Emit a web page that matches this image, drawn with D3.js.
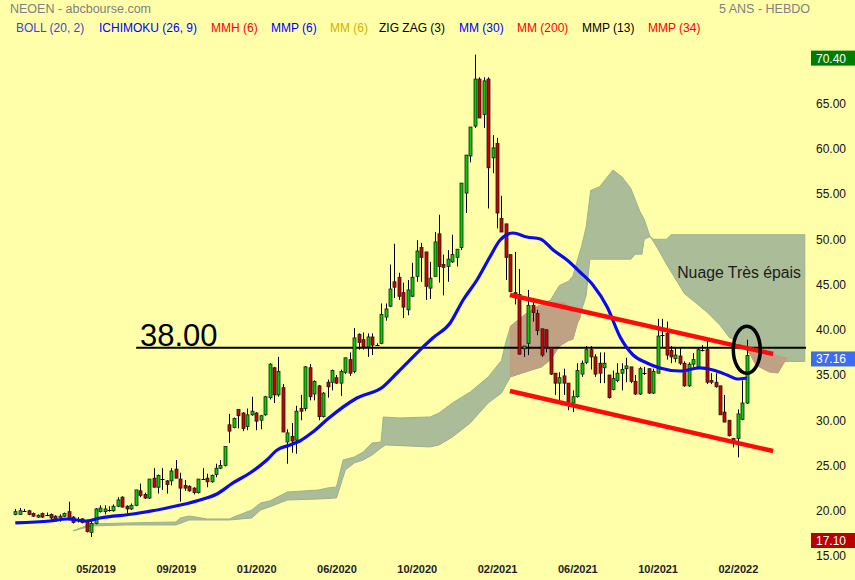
<!DOCTYPE html>
<html><head><meta charset="utf-8">
<script src="https://cdn.jsdelivr.net/npm/d3@7"></script>
<style>body{margin:0;background:#ffffaa}svg{display:block}</style>
</head><body><svg id="c" width="855" height="580"></svg>
<script>
// ---------- DATA ----------
const title = "NEOEN - abcbourse.com";
const period = "5 ANS - HEBDO";
const legendLabels = ["BOLL (20, 2)","ICHIMOKU (26, 9)","MMH (6)","MMP (6)","MM (6)","ZIG ZAG (3)","MM (30)","MM (200)","MMP (13)","MMP (34)"];
const xTickIdx = [18,36,54,72,90,108,126,144,162];
const xTickLabels = ["05/2019","09/2019","01/2020","06/2020","10/2020","02/2021","06/2021","10/2021","02/2022"];
const yTicks = [15,20,25,30,35,40,45,50,55,60,65];
// weekly candles: [open, high, low, close]
const ohlc = [
[19.6,20.2,19.5,19.9],[19.6,20.3,19.6,20.0],[20.0,20.2,19.95,20.0],[20.0,20.1,19.5,19.6],[19.7,19.8,19.3,19.4],
[19.3,19.6,19.2,19.5],[19.7,19.8,19.2,19.3],[19.5,19.8,19.4,19.5],[19.6,19.7,19.0,19.2],[19.4,19.5,19.0,19.1],
[19.2,19.6,18.8,19.4],[19.4,19.8,19.3,19.7],[19.9,21.0,19.1,19.1],[19.3,19.4,18.6,18.7],[19.0,19.3,18.7,19.0],
[19.1,19.2,18.6,18.7],[18.8,19.0,17.6,17.7],[17.6,19.0,17.1,18.6],[18.6,20.3,18.5,20.2],[19.9,20.6,19.8,20.3],
[19.9,20.6,19.6,20.2],[20.1,20.5,19.9,20.1],[20.0,20.7,19.9,20.5],[20.5,21.5,20.4,21.2],[21.5,21.6,20.4,20.4],
[20.5,20.6,19.7,20.2],[20.2,20.8,20.1,20.6],[20.6,22.3,20.5,22.3],[22.2,23.0,21.5,21.7],[21.8,22.0,21.3,21.4],
[21.4,23.5,21.3,23.5],[23.6,24.7,22.6,22.6],[22.6,24.0,21.9,23.9],[23.5,24.7,22.3,23.5],[23.3,23.4,21.9,22.9],
[23.3,24.7,22.8,24.4],[24.6,25.6,23.6,23.6],[23.5,24.2,21.0,22.5],[22.8,23.4,22.2,22.5],[22.7,22.8,22.1,22.2],
[22.5,22.6,21.8,22.0],[22.0,23.5,21.9,23.5],[23.5,24.7,23.4,23.5],[23.6,24.1,22.6,23.2],[23.2,24.0,23.1,23.9],
[24.0,25.2,23.7,24.7],[24.7,25.6,24.6,25.0],[25.0,27.1,24.9,27.1],[29.5,30.7,27.5,28.8],[29.2,30.3,29.1,30.2],
[31.2,31.2,29.1,30.5],[30.8,30.9,28.8,29.1],[29.3,31.3,28.9,30.6],[30.6,32.6,30.5,31.0],[30.8,30.9,28.9,29.9],
[30.0,30.6,29.0,30.5],[30.6,32.7,30.5,32.6],[32.5,36.3,32.3,36.2],[35.8,35.9,31.9,32.8],[32.8,37.0,32.6,35.4],
[33.6,34.0,28.7,28.7],[27.6,29.0,25.2,28.6],[28.2,29.7,26.4,27.7],[27.8,31.6,26.3,31.0],[31.3,32.8,30.0,31.0],
[31.3,36.0,31.0,35.9],[35.8,36.2,32.2,32.6],[32.9,34.4,32.2,34.3],[33.8,33.9,30.0,30.4],[30.4,33.1,30.3,33.0],
[34.2,34.5,32.5,33.7],[34.2,35.6,33.3,35.5],[34.7,35.0,34.0,34.1],[34.1,35.6,32.7,35.4],[35.3,36.9,35.1,36.9],
[36.7,37.5,34.9,35.2],[35.4,40.2,35.2,39.1],[39.5,39.6,37.8,38.6],[38.9,39.7,37.8,38.1],[38.1,39.6,37.0,39.2],
[39.2,39.6,37.2,38.3],[38.3,38.5,38.2,38.3],[38.5,42.9,38.4,41.7],[41.4,42.9,41.0,42.3],[42.6,47.2,42.5,44.5],
[45.3,49.5,43.5,44.7],[45.8,46.3,43.3,43.7],[44.1,45.2,41.3,42.5],[42.2,45.5,41.6,44.4],[43.7,47.4,43.6,45.8],
[45.9,49.9,45.3,48.7],[49.1,49.6,45.3,48.0],[48.6,48.6,43.3,44.8],[44.6,47.5,43.4,45.7],[45.9,50.8,45.9,49.7],
[50.6,52.7,45.2,47.0],[47.2,48.3,43.8,46.9],[47.0,48.8,45.3,47.8],[47.5,50.5,47.4,48.3],[48.0,48.9,47.0,48.9],
[49.1,56.2,48.8,56.2],[55.1,59.3,52.9,59.3],[59.2,62.4,58.5,62.4],[62.5,70.4,62.3,67.7],[67.7,67.9,63.4,63.4],
[63.8,67.9,62.3,67.5],[67.7,67.9,53.4,57.9],[59.0,61.5,57.3,60.1],[60.6,61.2,51.2,52.9],[52.3,54.8,50.8,50.8],
[51.7,51.7,45.5,48.0],[48.3,48.3,44.2,44.2],[44.1,48.6,42.8,43.9],[43.9,46.7,37.3,37.3],[37.9,38.2,37.0,38.2],
[38.5,44.4,37.2,42.7],[42.7,43.5,40.9,41.9],[41.8,42.2,39.4,39.9],[40.1,40.1,37.0,37.2],[40.0,40.0,37.5,38.0],
[38.0,38.0,35.0,35.1],[35.2,35.2,32.8,34.1],[34.1,35.3,32.2,34.7],[34.9,35.7,32.8,34.1],[34.1,34.1,31.1,31.9],
[31.9,33.3,30.9,32.6],[32.6,36.3,32.5,35.5],[35.1,36.6,34.8,36.3],[36.4,38.2,36.2,37.8],[37.8,38.2,35.6,37.0],
[37.0,37.3,34.8,35.1],[36.3,37.5,34.1,35.2],[35.8,37.5,34.1,36.3],[35.0,35.0,32.4,32.5],[33.4,35.5,33.3,34.6],
[34.4,36.3,34.2,35.2],[35.2,36.3,33.3,35.6],[35.7,36.9,34.2,36.0],[35.9,35.9,34.1,34.3],[34.3,35.0,32.8,32.9],
[32.9,35.9,32.8,35.7],[35.2,35.9,35.0,35.2],[35.7,35.7,32.9,33.0],[33.0,35.7,32.9,35.4],[35.2,41.2,35.2,39.3],
[39.3,41.2,38.1,39.4],[39.6,40.9,36.7,37.2],[37.7,38.2,36.3,37.0],[36.8,38.0,36.4,37.2],[37.1,38.0,36.1,36.3],
[36.3,36.5,33.7,33.8],[33.8,36.4,33.7,36.2],[36.2,37.4,35.9,36.7],[35.9,38.1,35.8,37.8],[37.8,38.3,37.6,37.8],
[37.8,38.9,34.0,34.2],[34.4,35.2,34.0,34.2],[34.2,35.2,33.6,33.7],[33.8,33.8,30.6,30.6],[30.9,32.8,29.8,29.8],
[30.0,30.0,28.2,28.3],[28.0,28.0,27.0,27.7],[28.0,31.2,25.9,30.7],[30.1,34.4,30.0,31.9],[31.9,38.9,31.8,37.16]
];
// MM (30): candle index / value
const maIdx = [0,7.8,11.6,16,19,26.4,34,41.4,45.2,48.8,52.6,56.4,58.7,61.6,63.8,66.7,70.3,76.6,82.4,85.6,88.5,90.7,93.6,97.5,100.4,103.5,106.4,108.7,111.6,114.7,117.7,120.6,123.7,126.6,129.5,132.7,135.6,138.5,141.6,144.5,149,153.5,156.4,159.6,161.8,164];
const maVal = [18.65,18.87,19.09,18.87,19.2,19.64,20.31,21.19,21.85,23.07,24.17,25.61,26.71,27.27,27.71,28.7,30.25,32.46,33.68,35.22,36.66,37.76,39.09,40.75,43.29,45.5,48.04,49.92,50.69,50.25,50.03,48.81,47.71,46.38,44.95,42.52,39.2,37.21,36.33,35.78,35.44,35.78,35.56,35.0,34.56,34.67];
// Ichimoku cloud outline (upper edge / lower edge), candle index / value
const cloudTopIdx = [13,17,25,36,37,39,43,48,49,53,55,57,61,68,70,72,73.5,76,78,80,82,82.5,86,93,95,98,102,106,109,110,111,113,116,118,120,122,124,125,126,127,128,129,131,134,136,138,140,141,142.3,143,146,147,177];
const cloudTopVal = [17.8,18.54,18.65,18.76,19.2,19.42,19.09,19.09,19.31,20.08,20.86,21.08,22.07,22.29,22.52,22.63,25.61,25.94,26.49,27.49,27.6,30.36,30.25,30.36,30.8,31.91,33.12,34.78,36.6,38.7,40.3,40.6,42.05,42.8,43.3,44.9,45.35,45.9,47.65,49.3,51.4,55.4,55.8,57.65,56.9,55.6,53.1,52.2,50.3,50.0,50.0,50.5,50.5];
const cloudBotIdx = [13,17,25,36,39,48,53,55,57,61,68,72,74,76,78,80,82,83,93,95,98,102,106,109,111,116,118,120,122,124,125,126,127,128,128.8,138,139,140.5,141,142.3,143,144,146,150,152,155,158,160,162,164,166,170,175,177];
const cloudBotVal = [17.77,18.32,18.43,18.43,18.98,18.98,19.2,20.08,20.42,21.19,21.3,21.41,24.51,25.28,25.61,26.16,26.94,27.27,27.05,27.27,28.15,29.7,31.9,33.0,34.8,35.6,35.9,36.7,38.2,38.8,38.95,40.7,42.25,43.8,47.8,47.8,48.35,48.35,50.0,50.3,49.8,49.0,47.25,44.0,43.2,41.98,40.5,39.2,38.5,37.7,36.6,36.5,36.5,36.5];
const brown1TopIdx = [111,114,117,120,123,125.5,126.8];
const brown1TopVal = [40.4,41.6,42.6,43.0,43.0,42.0,41.5];
const brown1BotIdx = [111,116,118,120,122,124,125,126,126.8];
const brown1BotVal = [34.8,35.6,35.9,36.7,38.2,38.8,38.95,40.7,41.5];
const brown2TopIdx = [164,167,170,173];
const brown2TopVal = [37.99,37.55,37.21,36.88];
const brown2BotIdx = [164,166,169,171,173];
const brown2BotVal = [37.99,36.11,35.33,35.22,36.88];
// annotations
const channelUpper = [[110.9,43.84],[169.9,37.32]];
const channelLower = [[110.9,33.23],[169.9,26.6]];
const resistance = 38.00;
const resistanceSpan = [27.1,177.7];
const lastValue = 37.16, highValue = 70.40, lowValue = 17.10;
const ellipseAt = [164, 37.8];
const cloudNote = "Nuage Très épais";
const cloudNoteAt = [148.4, 45.7];

// ---------- STYLE ----------
const FONT = "'Liberation Sans', Arial, Helvetica, sans-serif";
const legendColors = ["#3c46d8","#0000ff","#ff0000","#0000ff","#c8b400","#000000","#0000ff","#ff0000","#000000","#ff0000"];
const legendX = [16,99,211,271,330,379,459,517,582,648];

const svg = d3.select("#c").style("font-family", FONT);
svg.append("rect").attr("width",855).attr("height",580).attr("fill","#ffffaa");

const x = d3.scaleLinear().domain([0,164]).range([15.3,746.8]);
const y = d3.scaleLinear().domain([15,70]).range([556,58.25]);

const defs = svg.append("defs");
defs.append("clipPath").attr("id","plot").append("rect").attr("x",0).attr("y",40).attr("width",806).attr("height",520);
defs.append("clipPath").attr("id","yax").append("rect").attr("x",810).attr("y",40).attr("width",45).attr("height",520);

const plot = svg.append("g").attr("clip-path","url(#plot)");

function poly(tIdx,tVal,bIdx,bVal){
  const pts = tIdx.map((d,k)=>[x(d),y(tVal[k])]);
  const bot = bIdx.map((d,k)=>[x(d),y(bVal[k])]).reverse();
  return d3.line().curve(d3.curveLinearClosed)(pts.concat(bot));
}
plot.append("path").attr("d",poly(cloudTopIdx,cloudTopVal,cloudBotIdx,cloudBotVal))
  .attr("fill","#aabd98").attr("stroke","#9db18b").attr("stroke-width",1);
plot.append("path").attr("d",poly(brown1TopIdx,brown1TopVal,brown1BotIdx,brown1BotVal))
  .attr("fill","#bea283").attr("stroke","#c29d80").attr("stroke-width",1);
plot.append("path").attr("d",poly(brown2TopIdx,brown2TopVal,brown2BotIdx,brown2BotVal))
  .attr("fill","#bea283").attr("stroke","#c29d80").attr("stroke-width",1);

// resistance line
plot.append("line").attr("x1",x(resistanceSpan[0])).attr("x2",x(resistanceSpan[1]))
  .attr("y1",y(resistance)).attr("y2",y(resistance)).attr("stroke","#000").attr("stroke-width",2);
svg.append("text").attr("x",140).attr("y",y(resistance)-2).attr("font-size",31).attr("fill","#000")
  .text(d3.format(".2f")(resistance));

// candles
const cg = plot.append("g");
ohlc.forEach((d,i)=>{
  const [o,h,l,c] = d;
  const cx = Math.round(x(i));
  cg.append("line").attr("x1",cx+0.5).attr("x2",cx+0.5).attr("y1",y(h)).attr("y2",y(l))
    .attr("stroke","#000").attr("stroke-width",1);
  const top = y(Math.max(o,c)), bot = y(Math.min(o,c));
  if (bot-top < 1.5){
    cg.append("line").attr("x1",cx-1.5).attr("x2",cx+2.5).attr("y1",Math.round(top)+0.5).attr("y2",Math.round(top)+0.5)
      .attr("stroke","#000").attr("stroke-width",1);
  } else {
    cg.append("rect").attr("x",cx-1).attr("y",top).attr("width",3).attr("height",bot-top)
      .attr("fill", c>=o ? "#00d000" : "#d00000").attr("stroke","#1a1a1a").attr("stroke-width",0.8);
  }
});

// MM 30
plot.append("path").attr("d",d3.line().curve(d3.curveMonotoneX)(maIdx.map((d,k)=>[x(d),y(maVal[k])])))
  .attr("fill","none").attr("stroke","#0a0aee").attr("stroke-width",3.2);

// channel lines
[channelUpper,channelLower].forEach(seg=>{
  plot.append("line").attr("x1",x(seg[0][0])).attr("y1",y(seg[0][1])).attr("x2",x(seg[1][0])).attr("y2",y(seg[1][1]))
    .attr("stroke","#ff0a0a").attr("stroke-width",4.5);
});

// ellipse
plot.append("ellipse").attr("cx",x(ellipseAt[0])).attr("cy",y(ellipseAt[1])).attr("rx",13.5).attr("ry",23.5)
  .attr("fill","none").attr("stroke","#000").attr("stroke-width",3.5);

// cloud note
svg.append("text").attr("x",x(cloudNoteAt[0])).attr("y",y(cloudNoteAt[1])).attr("font-size",15.8).attr("fill","#1a1a1a").text(cloudNote);

// y axis
const yAxis = svg.append("g").attr("clip-path","url(#yax)").append("g").attr("transform","translate(816,0)")
  .call(d3.axisRight(y).tickValues(yTicks).tickFormat(d3.format(".2f")).tickSize(0).tickPadding(0));
yAxis.select(".domain").remove();
yAxis.selectAll("text").attr("font-size",12).attr("font-family",FONT).attr("fill","#111");

// value boxes
[[highValue,"#007c00"],[lastValue,"#3d6cf0"],[lowValue,"#b80000"]].forEach(([v,col])=>{
  const g = svg.append("g");
  g.append("rect").attr("x",811).attr("y",y(v)-4).attr("width",44).attr("height",15).attr("fill",col);
  g.append("text").attr("x",816).attr("y",y(v)+8).attr("font-size",12).attr("fill","#fff").text(d3.format(".2f")(v));
});

// x axis
const xAxis = svg.append("g").attr("transform","translate(0,563)")
  .call(d3.axisBottom(x).tickValues(xTickIdx).tickFormat((d,k)=>xTickLabels[k]).tickSize(0).tickPadding(2));
xAxis.select(".domain").remove();
xAxis.selectAll("text").attr("font-size",11).attr("font-weight","bold").attr("font-family",FONT).attr("fill","#222");

// header
svg.append("text").attr("x",10).attr("y",13).attr("font-size",12.5).attr("fill","#808080").text(title);
svg.append("text").attr("x",810).attr("y",13).attr("text-anchor","end").attr("font-size",12.5).attr("fill","#808080").text(period);
legendLabels.forEach((t,k)=>{
  svg.append("text").attr("x",legendX[k]).attr("y",32).attr("font-size",12).attr("fill",legendColors[k]).text(t);
});
</script></body></html>
